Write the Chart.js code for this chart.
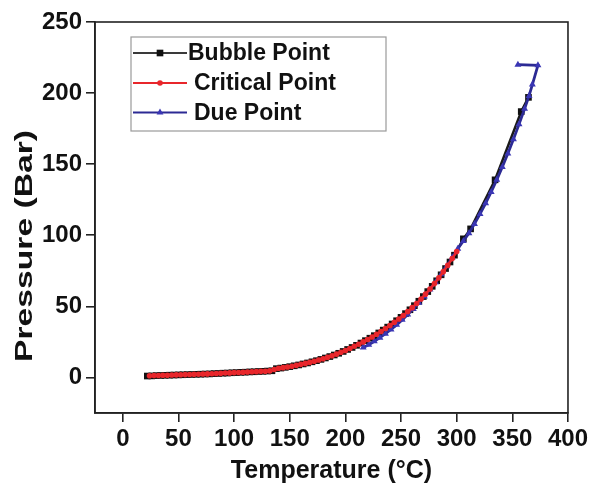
<!DOCTYPE html>
<html><head><meta charset="utf-8">
<script src="https://cdn.jsdelivr.net/npm/chart.js@4/dist/chart.umd.min.js"></script>
<style>html,body{margin:0;padding:0;background:#fff}</style>
</head><body>
<canvas id="c" width="591" height="486"></canvas>
<script>
const xTicks = [0, 50, 100, 150, 200, 250, 300, 350, 400];
const yTicks = [0, 50, 100, 150, 200, 250];
const seriesNames = ['Bubble Point', 'Critical Point', 'Due Point'];

const bubbleT = [22,26,30,34,38,42,46,50,54,58,62,66,70,74,78,82,86,90,94,98,102,106,110,114,118,122,126,130,134,138,142,146,150,154,158,162,166,170,174,178,182,186,190,194,198,202,206,210,214,218,222,226,230,234,238,242,246,250,254,258,262,266,270,274,278,282,286,290,294,298,306,312.5,334.5,358,364.5];
const bubbleP = [1.0,1.1,1.3,1.4,1.5,1.6,1.7,1.8,1.9,2.0,2.1,2.2,2.3,2.4,2.5,2.7,2.8,3.0,3.1,3.3,3.4,3.6,3.7,3.9,4.0,4.2,4.3,4.5,4.7,6.2,6.6,7.1,7.6,8.2,8.8,9.5,10.2,11.0,11.8,12.7,13.7,14.7,15.8,17.0,18.3,19.7,21.1,22.6,24.2,25.9,27.6,29.4,31.3,33.3,35.4,37.6,39.9,42.3,44.9,47.6,50.5,53.6,56.9,60.4,64.1,68.0,72.2,76.6,81.2,86.0,97.5,104.5,139,187,197];

const criticalT = [24,28,32,36,40,44,48,52,56,60,64,68,72,76,80,84,88,92,96,100,104,108,112,116,120,124,128,132,136,140,144,148,152,156,160,164,168,172,176,180,184,188,192,196,200,204,208,212,216,220,224,228,232,236,240,244,248,252,256,260,264,268,272,276,280,284,288,292,296,300];
const criticalP = [1.2,1.3,1.4,1.5,1.6,1.7,1.8,1.9,2.0,2.1,2.2,2.3,2.4,2.5,2.6,2.8,2.9,3.1,3.2,3.4,3.5,3.7,3.8,4.0,4.1,4.3,4.4,4.6,5.6,6.5,6.9,7.4,7.9,8.5,9.2,9.9,10.6,11.4,12.3,13.2,14.2,15.3,16.4,17.7,19.0,20.4,21.9,23.4,25.0,26.7,28.5,30.4,32.3,34.4,36.5,38.8,41.1,43.6,46.3,49.1,52.0,55.2,58.6,62.2,66.0,70.1,74.4,78.9,83.6,88.6];

const dewT = [216,221,226,231,236,241,246,251,256,261,266,271,276,281,286,291,296,301,306,311,316,321,326,331,336,341,346,351,356,361,365,368,373,355];
const dewP = [21,23,25.5,28,30.8,33.8,37,40.5,44.2,48.2,52.5,57,61.8,67,72.5,78.3,84.3,90.5,96,101.5,108,115,122.5,130.5,139,148,157.5,167.5,178,189,198,206,219.5,220];

const toXY = (xs, ys) => xs.map((x, i) => ({x: x, y: ys[i]}));
const FONT = '"Liberation Sans", Arial, sans-serif';

const datasets = [
  {label: seriesNames[1], data: toXY(criticalT, criticalP), borderColor: '#e8262b', backgroundColor: '#e8262b',
   pointStyle: 'circle', pointRadius: 2.8, borderWidth: 2.5, pointBorderWidth: 0, order: 0},
  {label: seriesNames[0], data: toXY(bubbleT, bubbleP), borderColor: '#1a1a1a', backgroundColor: '#111',
   pointStyle: 'rect', pointRadius: 4.7, borderWidth: 2.5, pointBorderWidth: 0, order: 2},
  {label: seriesNames[2], data: toXY(dewT, dewP), borderColor: '#2c2a94', backgroundColor: '#3a36b4',
   pointStyle: 'triangle', pointRadius: 4, borderWidth: 2.8, pointBorderWidth: 0, order: 1}
];

const framePlugin = {
  id: 'frame',
  beforeDatasetsDraw(chart) {
    const a = chart.chartArea, ctx = chart.ctx;
    ctx.save();
    ctx.strokeStyle = '#222';
    ctx.lineWidth = 1.6;
    ctx.strokeRect(a.left, a.top, a.right - a.left, a.bottom - a.top);
    ctx.restore();
  },
  afterDraw(chart) {
    const ctx = chart.ctx;
    ctx.save();
    ctx.font = 'bold 23px ' + FONT;
    ctx.fillStyle = '#111';
    ctx.textAlign = 'center';
    ctx.textBaseline = 'middle';
    ctx.translate(26, 246);
    ctx.rotate(-Math.PI / 2);
    const w = ctx.measureText('Pressure (Bar)').width;
    ctx.scale(232 / w, 1);
    ctx.fillText('Pressure (Bar)', 0, 0);
    ctx.restore();
  }
};

const legendPlugin = {
  id: 'boxLegend',
  afterDatasetsDraw(chart) {
    const ctx = chart.ctx;
    ctx.save();
    ctx.fillStyle = '#fff';
    ctx.fillRect(131, 37, 255, 94);
    ctx.strokeStyle = '#9a9a9a';
    ctx.lineWidth = 1.2;
    ctx.strokeRect(131, 37, 255, 94);
    const rows = [
      {ds: 1, y: 53, tx: 188},
      {ds: 0, y: 83, tx: 194},
      {ds: 2, y: 112.5, tx: 194}
    ];
    rows.forEach(r => {
      const d = chart.data.datasets[r.ds];
      ctx.strokeStyle = r.ds === 1 ? '#3a3a3a' : d.borderColor;
      ctx.lineWidth = 2;
      ctx.beginPath(); ctx.moveTo(133, r.y); ctx.lineTo(187, r.y); ctx.stroke();
      ctx.fillStyle = d.backgroundColor;
      Chart.helpers.drawPoint(ctx, {pointStyle: d.pointStyle, radius: d.pointRadius, rotation: 0, borderWidth: 0}, 160, r.y);
      ctx.fillStyle = '#111';
      ctx.font = 'bold 23px ' + FONT;
      ctx.textAlign = 'left';
      ctx.textBaseline = 'middle';
      ctx.fillText(d.label, r.tx, r.y + 1);
    });
    ctx.restore();
  }
};

new Chart(document.getElementById('c'), {
  type: 'line',
  data: {datasets: datasets},
  options: {
    responsive: false,
    animation: false,
    layout: {padding: {top: 22, right: 23, left: 0, bottom: 0}},
    plugins: {legend: {display: false}, tooltip: {enabled: false}},
    elements: {line: {tension: 0}},
    scales: {
      x: {
        type: 'linear', min: -25, max: 400,
        afterBuildTicks: s => { s.ticks = xTicks.map(v => ({value: v})); },
        afterFit: s => { s.height = 73; },
        grid: {display: true, drawOnChartArea: false, drawTicks: true, tickLength: 9, color: '#222', lineWidth: 1.6},
        border: {display: true, color: '#222', width: 1.6},
        ticks: {font: {family: FONT, size: 24, weight: 'bold'}, color: '#111', padding: 3, maxRotation: 0, autoSkip: false},
        title: {display: true, text: 'Temperature (°C)', font: {family: FONT, size: 25, weight: 'bold'}, color: '#111', padding: {top: 0, bottom: 0}}
      },
      y: {
        type: 'linear', min: -25, max: 250,
        afterBuildTicks: s => { s.ticks = yTicks.map(v => ({value: v})); },
        afterFit: s => { s.width = 95; },
        grid: {display: true, drawOnChartArea: false, drawTicks: true, tickLength: 9, color: '#222', lineWidth: 1.6},
        border: {display: true, color: '#222', width: 1.6},
        ticks: {font: {family: FONT, size: 24, weight: 'bold'}, color: '#111', padding: 4, autoSkip: false},
        title: {display: false}
      }
    }
  },
  plugins: [framePlugin, legendPlugin]
});
</script>
</body></html>
